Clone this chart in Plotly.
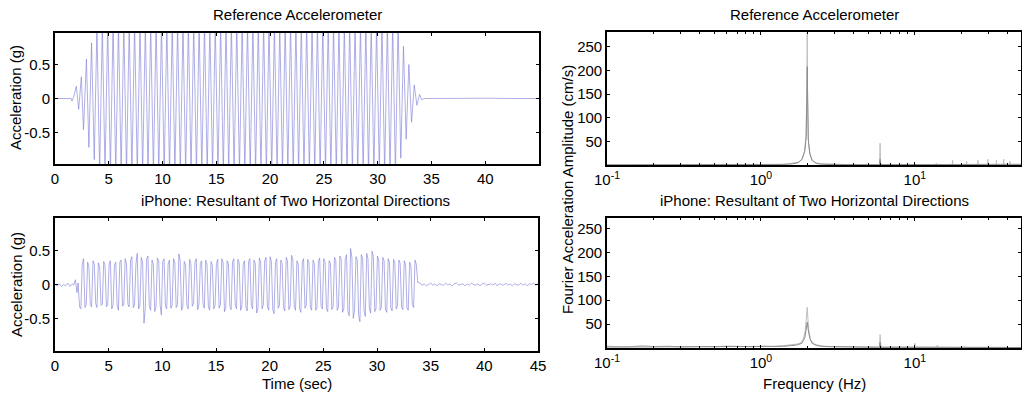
import plotly.graph_objects as go

# ---------------- DATA ----------------
# Reference accelerometer: time (s) and acceleration (g) at successive peaks
ref_time = [
    0.00, 1.50, 1.58, 1.75, 1.98, 2.20, 2.45, 2.65, 2.92, 3.15, 3.40, 3.65, 3.90,
    4.15, 4.40, 4.65, 4.90, 5.15, 5.40, 5.65, 5.90, 6.15, 6.40, 6.65, 6.90,
    7.15, 7.40, 7.65, 7.90, 8.15, 8.40, 8.65, 8.90, 9.15, 9.40, 9.65, 9.90,
    10.15, 10.40, 10.65, 10.90, 11.15, 11.40, 11.65, 11.90, 12.15, 12.40, 12.65, 12.90,
    13.15, 13.40, 13.65, 13.90, 14.15, 14.40, 14.65, 14.90, 15.15, 15.40, 15.65, 15.90,
    16.15, 16.40, 16.65, 16.90, 17.15, 17.40, 17.65, 17.90, 18.15, 18.40, 18.65, 18.90,
    19.15, 19.40, 19.65, 19.90, 20.15, 20.40, 20.65, 20.90, 21.15, 21.40, 21.65, 21.90,
    22.15, 22.40, 22.65, 22.90, 23.15, 23.40, 23.65, 23.90, 24.15, 24.40, 24.65, 24.90,
    25.15, 25.40, 25.65, 25.90, 26.15, 26.40, 26.65, 26.90, 27.15, 27.40, 27.65, 27.90,
    28.15, 28.40, 28.65, 28.90, 29.15, 29.40, 29.65, 29.90, 30.15, 30.40, 30.65, 30.90,
    31.15, 31.40, 31.65, 31.90,
    32.15, 32.40, 32.65, 32.90, 33.15, 33.40, 33.65, 33.90, 34.10, 34.30,
    36.50, 38.00, 40.50, 42.50, 45.00,
]
ref_acc = [
    0.00, 0.00, -0.04, 0.03, 0.18, -0.16, 0.32, -0.46, 0.58, -0.72, 0.82, -0.90, 1.05,
    -1.10, 1.10, -1.10, 1.10, -1.10, 1.10, -1.10, 1.10, -1.10, 1.10, -1.10, 1.10,
    -1.10, 1.10, -1.10, 1.10, -1.10, 1.10, -1.10, 1.10, -1.10, 1.10, -1.10, 1.10,
    -1.10, 1.10, -1.10, 1.10, -1.10, 1.10, -1.10, 1.10, -1.10, 1.10, -1.10, 1.10,
    -1.10, 1.10, -1.10, 1.10, -1.10, 1.10, -1.10, 1.10, -1.10, 1.10, -1.10, 1.10,
    -1.10, 1.10, -1.10, 1.10, -1.10, 1.10, -1.10, 1.10, -1.10, 1.10, -1.10, 1.10,
    -1.10, 1.10, -1.10, 1.10, -1.10, 1.10, -1.10, 1.10, -1.10, 1.10, -1.10, 1.10,
    -1.10, 1.10, -1.10, 1.10, -1.10, 1.10, -1.10, 1.10, -1.10, 1.10, -1.10, 1.10,
    -1.10, 1.10, -1.10, 1.10, -1.10, 1.10, -1.10, 1.10, -1.10, 1.10, -1.10, 1.10,
    -1.10, 1.10, -1.10, 1.10, -1.10, 1.10, -1.10, 1.10, -1.10, 1.10, -1.10, 1.10,
    -1.10, 1.10, -1.10, 1.10,
    -0.88, 0.77, -0.60, 0.50, -0.35, 0.20, -0.10, 0.06, -0.02, 0.00,
    0.004, -0.003, 0.004, 0.00, 0.00,
]

# iPhone resultant: time (s) and acceleration (g)
iph_time = [
    0.00, 0.20, 0.40, 0.60, 0.80, 1.00, 1.20, 1.40, 1.60, 1.75, 1.90, 2.05, 2.15,
    2.29, 2.41, 2.54, 2.66, 2.79, 2.91,
    3.04, 3.16, 3.29, 3.41, 3.54, 3.66, 3.79, 3.91,
    4.04, 4.16, 4.29, 4.41, 4.54, 4.66, 4.79, 4.91,
    5.04, 5.16, 5.29, 5.41, 5.54, 5.66, 5.79, 5.91,
    6.04, 6.16, 6.29, 6.41, 6.54, 6.66, 6.79, 6.91,
    7.04, 7.16, 7.29, 7.41, 7.54, 7.66, 7.79, 7.91,
    8.04, 8.16, 8.29, 8.41, 8.54, 8.66, 8.79, 8.91,
    9.04, 9.16, 9.29, 9.41, 9.54, 9.66, 9.79, 9.91,
    10.04, 10.16, 10.29, 10.41, 10.54, 10.66, 10.79, 10.91,
    11.04, 11.16, 11.29, 11.41, 11.54, 11.66, 11.79, 11.91,
    12.04, 12.16, 12.29, 12.41, 12.54, 12.66, 12.79, 12.91,
    13.04, 13.16, 13.29, 13.41, 13.54, 13.66, 13.79, 13.91,
    14.04, 14.16, 14.29, 14.41, 14.54, 14.66, 14.79, 14.91,
    15.04, 15.16, 15.29, 15.41, 15.54, 15.66, 15.79, 15.91,
    16.04, 16.16, 16.29, 16.41, 16.54, 16.66, 16.79, 16.91,
    17.04, 17.16, 17.29, 17.41, 17.54, 17.66, 17.79, 17.91,
    18.04, 18.16, 18.29, 18.41, 18.54, 18.66, 18.79, 18.91,
    19.04, 19.16, 19.29, 19.41, 19.54, 19.66, 19.79, 19.91,
    20.04, 20.16, 20.29, 20.41, 20.54, 20.66, 20.79, 20.91,
    21.04, 21.16, 21.29, 21.41, 21.54, 21.66, 21.79, 21.91,
    22.04, 22.16, 22.29, 22.41, 22.54, 22.66, 22.79, 22.91,
    23.04, 23.16, 23.29, 23.41, 23.54, 23.66, 23.79, 23.91,
    24.04, 24.16, 24.29, 24.41, 24.54, 24.66, 24.79, 24.91,
    25.04, 25.16, 25.29, 25.41, 25.54, 25.66, 25.79, 25.91,
    26.04, 26.16, 26.29, 26.41, 26.54, 26.66, 26.79, 26.91,
    27.04, 27.16, 27.29, 27.41, 27.54, 27.66, 27.79, 27.91,
    28.04, 28.16, 28.29, 28.41, 28.54, 28.66, 28.79, 28.91,
    29.04, 29.16, 29.29, 29.41, 29.54, 29.66, 29.79, 29.91,
    30.04, 30.16, 30.29, 30.41, 30.54, 30.66, 30.79, 30.91,
    31.04, 31.16, 31.29, 31.41, 31.54, 31.66, 31.79, 31.91,
    32.04, 32.16, 32.29, 32.41, 32.54, 32.66, 32.79, 32.91,
    33.04, 33.16, 33.29, 33.41, 33.54, 33.66, 33.80,
    34.00, 34.20, 34.40, 34.60, 34.80, 35.00, 35.20, 35.40, 35.60, 35.80,
    36.00, 36.20, 36.40, 36.60, 36.80, 37.00, 37.20, 37.40, 37.60, 37.80,
    38.00, 38.20, 38.40, 38.60, 38.80, 39.00, 39.20, 39.40, 39.60, 39.80,
    40.00, 40.20, 40.40, 40.60, 40.80, 41.00, 41.20, 41.40, 41.60, 41.80,
    42.00, 42.20, 42.40, 42.60, 42.80, 43.00, 43.20, 43.40, 43.60, 43.80,
    44.00, 44.20, 44.40, 44.60, 44.80, 45.00,
]
iph_acc = [
    0.00, -0.02, 0.01, -0.03, 0.00, -0.02, 0.02, -0.03, 0.01, -0.01, 0.07, -0.12, 0.02,
    -0.33, -0.36, 0.30, 0.38, -0.34, -0.30,
    0.33, 0.27, -0.30, -0.33, 0.35, 0.30, -0.28, -0.34,
    0.32, 0.26, -0.31, -0.29, 0.34, 0.28, -0.33, -0.30,
    0.30, 0.35, -0.36, -0.30, 0.28, 0.33, -0.31, -0.38,
    0.33, 0.36, -0.32, -0.30, 0.38, 0.30, -0.29, -0.33,
    0.35, 0.41, -0.34, -0.30, 0.30, 0.46, -0.36, -0.31,
    0.40, 0.33, -0.57, -0.35, 0.38, 0.42, -0.33, -0.38,
    0.36, 0.30, -0.40, -0.33, 0.39, 0.35, -0.30, -0.45,
    0.34, 0.38, -0.32, -0.36, 0.30, 0.36, -0.35, -0.31,
    0.38, 0.33, -0.34, -0.30, 0.45, 0.36, -0.38, -0.33,
    0.34, 0.29, -0.31, -0.36, 0.37, 0.31, -0.32, -0.28,
    0.33, 0.38, -0.37, -0.30, 0.31, 0.35, -0.29, -0.35,
    0.36, 0.30, -0.33, -0.38, 0.34, 0.28, -0.36, -0.31,
    0.31, 0.37, -0.35, -0.30, 0.38, 0.33, -0.40, -0.34,
    0.35, 0.30, -0.32, -0.37, 0.33, 0.38, -0.30, -0.36,
    0.37, 0.32, -0.38, -0.33, 0.30, 0.35, -0.34, -0.39,
    0.34, 0.38, -0.31, -0.36, 0.36, 0.31, -0.42, -0.35,
    0.39, 0.33, -0.36, -0.30, 0.35, 0.40, -0.33, -0.38,
    0.41, 0.34, -0.37, -0.43, 0.33, 0.38, -0.35, -0.31,
    0.36, 0.31, -0.34, -0.39, 0.40, 0.35, -0.37, -0.32,
    0.43, 0.36, -0.33, -0.38, 0.35, 0.30, -0.36, -0.41,
    0.33, 0.38, -0.35, -0.31, 0.37, 0.32, -0.34, -0.38,
    0.36, 0.31, -0.38, -0.34, 0.34, 0.39, -0.32, -0.36,
    0.38, 0.33, -0.36, -0.40, 0.35, 0.31, -0.37, -0.33,
    0.40, 0.35, -0.38, -0.33, 0.42, 0.37, -0.41, -0.36,
    0.37, 0.44, -0.40, -0.46, 0.53, 0.40, -0.50, -0.38,
    0.41, 0.36, -0.45, -0.55, 0.44, 0.38, -0.39, -0.47,
    0.46, 0.38, -0.36, -0.42, 0.49, 0.41, -0.40, -0.35,
    0.42, 0.36, -0.38, -0.33, 0.40, 0.35, -0.37, -0.41,
    0.38, 0.33, -0.35, -0.39, 0.37, 0.32, -0.36, -0.31,
    0.36, 0.31, -0.33, -0.37, 0.35, 0.30, -0.34, -0.38,
    0.33, 0.28, -0.30, -0.34, 0.36, 0.30, 0.03,
    0.02, -0.01, 0.01, -0.02, 0.00, 0.02, -0.01, 0.01, -0.02, 0.01,
    0.00, -0.01, 0.02, -0.01, 0.01, -0.02, 0.01, 0.02, -0.01, 0.00,
    0.01, -0.02, 0.01, -0.01, 0.02, 0.00, -0.01, 0.01, -0.02, 0.01,
    0.02, -0.01, 0.00, 0.01, -0.01, 0.02, -0.02, 0.01, 0.00, -0.01,
    0.02, -0.01, 0.01, -0.02, 0.01, 0.00, -0.01, 0.02, -0.01, 0.01,
    -0.02, 0.01, 0.00, 0.02, -0.01, 0.01,
]

# Fourier amplitude spectra (cm/s) vs frequency (Hz)
ref_raw_f = [0.10, 0.20, 0.35, 0.50, 0.70, 0.90, 1.10, 1.30, 1.50, 1.65, 1.75, 1.85, 1.92, 1.96,
             1.99, 2.00, 2.01, 2.04, 2.08, 2.15, 2.25, 2.40, 2.70, 3.00, 3.50, 4.00, 5.00,
             5.90, 5.95, 6.00, 7.00, 8.00, 9.00, 10.0, 11.0, 12.5, 13.7, 13.8, 13.9, 15.5,
             17.5, 17.6, 17.7, 19.5, 21.6, 21.7, 21.8, 23.5, 25.6, 25.7, 25.8, 27.5,
             29.7, 29.8, 29.9, 31.5, 33.8, 33.9, 34.0, 35.5, 37.7, 37.8, 37.9, 39.5,
             41.4, 41.5, 41.6, 45.0, 49.0]
ref_raw_a = [0.5, 0.4, 0.6, 0.5, 0.7, 0.8, 1.0, 1.3, 2.0, 3.5, 6.0, 12.0, 28.0, 60.0,
             150.0, 280.0, 140.0, 45.0, 22.0, 10.0, 5.0, 3.0, 2.0, 1.2, 1.0, 0.8, 0.8,
             0.8, 46.0, 1.2, 0.8, 0.7, 0.8, 1.2, 0.8, 0.9, 0.9, 4.0, 0.8, 0.8,
             0.8, 10.0, 0.8, 0.8, 0.8, 8.0, 0.8, 0.8, 0.8, 10.0, 0.8, 0.8,
             0.8, 12.0, 0.8, 0.8, 0.8, 10.0, 0.8, 0.8, 0.8, 12.0, 0.8, 0.8,
             0.8, 8.0, 0.8, 0.8, 0.8]
ref_smooth_f = [0.10, 0.50, 1.00, 1.40, 1.60, 1.75, 1.85, 1.93, 1.97, 2.00, 2.03, 2.08,
                2.15, 2.30, 2.60, 3.00, 5.00, 5.90, 5.95, 6.00, 8.00, 12.0, 20.0, 30.0, 49.0]
ref_smooth_a = [0.3, 0.4, 0.6, 1.2, 2.5, 5.0, 12.0, 30.0, 60.0, 208.0, 55.0, 25.0,
                10.0, 3.0, 1.2, 0.8, 0.6, 0.6, 12.0, 0.6, 0.6, 0.8, 1.5, 2.0, 1.5]

iph_raw_f = [0.10, 0.13, 0.17, 0.20, 0.25, 0.30, 0.40, 0.50, 0.60, 0.70, 0.80, 0.90, 1.00,
             1.20, 1.40, 1.55, 1.70, 1.80, 1.88, 1.94, 1.98, 2.00, 2.02, 2.05, 2.10,
             2.20, 2.35, 2.50, 2.80, 3.20, 4.00, 5.00, 5.90, 5.95, 6.00, 6.05, 7.00,
             8.00, 9.00, 9.95, 10.0, 10.05, 12.0, 13.9, 14.0, 14.1, 17.0, 20.0, 25.0,
             30.0, 35.0, 40.0, 45.0, 49.0]
iph_raw_a = [4.0, 2.0, 5.0, 3.0, 4.0, 2.0, 3.0, 2.5, 4.0, 3.0, 3.5, 2.5, 4.0,
             3.0, 5.0, 6.0, 8.0, 10.0, 18.0, 35.0, 60.0, 85.0, 62.0, 35.0, 18.0,
             9.0, 6.0, 4.0, 3.0, 2.5, 2.0, 2.0, 2.0, 28.0, 10.0, 2.0, 2.0,
             2.0, 2.0, 2.0, 10.0, 2.0, 2.0, 2.0, 6.0, 2.0, 1.5, 2.0, 1.5,
             1.5, 1.2, 1.2, 1.0, 1.0]
iph_smooth_f = [0.10, 0.30, 0.60, 1.00, 1.40, 1.70, 1.85, 1.93, 1.97, 2.00, 2.03, 2.08,
                2.15, 2.30, 2.60, 3.50, 5.00, 5.90, 5.95, 6.00, 8.00, 12.0, 20.0, 35.0, 49.0]
iph_smooth_a = [2.0, 2.5, 2.0, 2.5, 3.5, 6.0, 10.0, 22.0, 40.0, 54.0, 38.0, 20.0,
                10.0, 5.0, 3.0, 2.0, 1.5, 1.5, 12.0, 1.5, 1.5, 1.5, 1.2, 1.0, 1.0]

# Tick labels
time_ticks = [0, 5, 10, 15, 20, 25, 30, 35, 40, 45]
acc_ticks = [-0.5, 0, 0.5]
acc_ticktext = ["-0.5", "0", "0.5"]
amp_ticks = [50, 100, 150, 200, 250]
freq_major = [0.1, 1, 10]
freq_major_text = ["10<sup>-1</sup>", "10<sup>0</sup>", "10<sup>1</sup>"]
freq_minor = [0.2, 0.3, 0.4, 0.5, 0.6, 0.7, 0.8, 0.9, 2, 3, 4, 5, 6, 7, 8, 9, 20, 30, 40]

# ---------------- FIGURE ----------------
W, H = 1022, 397
FONT = "Liberation Sans, Arial, Helvetica, sans-serif"
FS = 15
TS_COLOR = "rgba(120,120,215,0.75)"
RAW_COLOR = "rgb(190,190,196)"
SMOOTH_COLOR = "rgb(140,140,145)"


def dx(l, r):
    return [l / W, r / W]


def dy(t, b):
    return [1 - b / H, 1 - t / H]


fig = go.Figure()
fig.add_trace(go.Scatter(x=ref_time, y=ref_acc, mode="lines", xaxis="x", yaxis="y",
                         line=dict(color=TS_COLOR, width=0.8), showlegend=False, hoverinfo="skip"))
fig.add_trace(go.Scatter(x=iph_time, y=iph_acc, mode="lines", xaxis="x2", yaxis="y2",
                         line=dict(color=TS_COLOR, width=0.8), showlegend=False, hoverinfo="skip"))
fig.add_trace(go.Scatter(x=ref_raw_f, y=ref_raw_a, mode="lines", xaxis="x3", yaxis="y3",
                         line=dict(color=RAW_COLOR, width=1), showlegend=False, hoverinfo="skip"))
fig.add_trace(go.Scatter(x=ref_smooth_f, y=ref_smooth_a, mode="lines", xaxis="x3", yaxis="y3",
                         line=dict(color=SMOOTH_COLOR, width=1), showlegend=False, hoverinfo="skip"))
fig.add_trace(go.Scatter(x=iph_raw_f, y=iph_raw_a, mode="lines", xaxis="x4", yaxis="y4",
                         line=dict(color=RAW_COLOR, width=1), showlegend=False, hoverinfo="skip"))
fig.add_trace(go.Scatter(x=iph_smooth_f, y=iph_smooth_a, mode="lines", xaxis="x4", yaxis="y4",
                         line=dict(color=SMOOTH_COLOR, width=1), showlegend=False, hoverinfo="skip"))

base = dict(showline=True, linecolor="black", linewidth=1.6, mirror="ticks",
            ticks="inside", ticklen=3, tickwidth=1, tickcolor="black",
            showgrid=False, zeroline=False, automargin=False,
            tickfont=dict(family=FONT, size=FS, color="black"))

fig.update_layout(
    width=W, height=H, margin=dict(l=0, r=0, t=0, b=0, pad=0, autoexpand=False),
    paper_bgcolor="white", plot_bgcolor="white",
    font=dict(family=FONT, size=FS, color="black"),
    xaxis=dict(base, domain=dx(55, 539), range=[0, 45], anchor="y",
               tickmode="array", tickvals=time_ticks[:-1]),
    yaxis=dict(base, domain=dy(33, 164), range=[-0.965, 0.965], anchor="x",
               tickmode="array", tickvals=acc_ticks, ticktext=acc_ticktext),
    xaxis2=dict(base, domain=dx(55, 538), range=[0, 45], anchor="y2",
                tickmode="array", tickvals=time_ticks),
    yaxis2=dict(base, domain=dy(218, 351), range=[-0.98, 0.98], anchor="x2",
                tickmode="array", tickvals=acc_ticks, ticktext=acc_ticktext),
    xaxis3=dict(base, domain=dx(607, 1021), type="log", range=[-1, 1.69], anchor="y3",
                tickmode="array", tickvals=freq_major, ticktext=freq_major_text,
                minor=dict(ticks="inside", ticklen=2, tickcolor="black", tickvals=freq_minor)),
    yaxis3=dict(base, domain=dy(32, 165), range=[0, 281], anchor="x3",
                tickmode="array", tickvals=amp_ticks),
    xaxis4=dict(base, domain=dx(607, 1021), type="log", range=[-1, 1.69], anchor="y4",
                tickmode="array", tickvals=freq_major, ticktext=freq_major_text,
                minor=dict(ticks="inside", ticklen=2, tickcolor="black", tickvals=freq_minor)),
    yaxis4=dict(base, domain=dy(218, 348), range=[0, 272], anchor="x4",
                tickmode="array", tickvals=amp_ticks),
)


def note(text, x, y, angle=0, size=FS):
    fig.add_annotation(text=text, x=x / W, y=1 - y / H, xref="paper", yref="paper",
                       showarrow=False, xanchor="center", yanchor="middle",
                       textangle=angle, font=dict(family=FONT, size=size, color="black"))


note("Reference Accelerometer", 297, 15)
note("Reference Accelerometer", 814, 15)
note("iPhone: Resultant of Two Horizontal Directions", 295, 200)
note("iPhone: Resultant of Two Horizontal Directions", 814, 200)
note("Acceleration (g)", 16, 98, angle=-90)
note("Acceleration (g)", 16, 285, angle=-90)
note("Fourier Acceleration Amplitude (cm/s)", 567, 190, angle=-90)
note("Time (sec)", 297, 383)
note("Frequency (Hz)", 814, 383)

fig.write_html("out.html")
